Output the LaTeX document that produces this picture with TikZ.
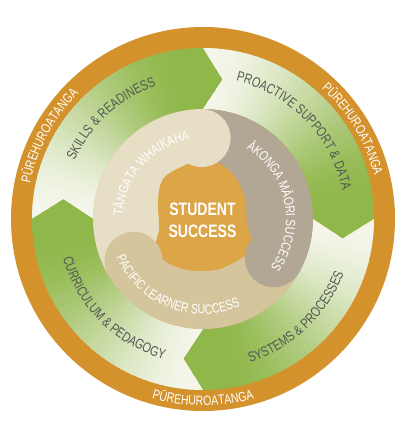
\documentclass[tikz,border=0pt]{standalone}
\usepackage{fontspec}
\setmainfont{Liberation Sans}[FakeStretch=0.78]
\usetikzlibrary{decorations.text}
\definecolor{ringC}{HTML}{D4922C}
\definecolor{coreC}{HTML}{DBA548}
\definecolor{creamC}{HTML}{E7DEC6}
\definecolor{greyC}{HTML}{B2A794}
\definecolor{tanC}{HTML}{D5C59C}
\definecolor{bandG}{HTML}{8FB74A}
\definecolor{bandL}{HTML}{F4F6EA}
\definecolor{labelC}{HTML}{545852}
\newcommand\ringfont{\fontsize{13.5}{15}\selectfont}
\newcommand\bandfont{\fontsize{14}{16}\selectfont}
\newcommand\lobefont{\fontsize{13.5}{15}\selectfont}
% radius, start angle, end angle, colour, font, text
\newcommand\arclabel[6]{%
  \path[decorate,decoration={text along path,text align=center,text color=#4,
    text={|#5|#6}}]
    (#2:#1pt) arc[start angle=#2,end angle=#3,radius=#1pt];}
\begin{document}
\begin{tikzpicture}
\useasboundingbox (-203pt,-204pt) rectangle (197pt,219pt);
\fill[white] (-203pt,-204pt) rectangle (197pt,219pt);
% outer orange ring
\fill[ringC] (0,0) circle[radius=192pt];
% green band: four chevron segments with angular gradient
\foreach \s in {180,90,0,-90}{
  \begin{scope}
    \clip (\s:171pt) arc[start angle=\s,end angle=\s-90,radius=171pt]
      -- (\s-98:141pt) -- (\s-90:110pt)
      arc[start angle=\s-90,end angle=\s,radius=110pt]
      -- (\s-8:141pt) -- cycle;
    \foreach \i in {0,...,49}{
      \pgfmathsetmacro\a{\s-2*\i}
      \pgfmathsetmacro\x{min(1,\i/42)}
      \pgfmathsetmacro\t{100*\x*\x*(3-2*\x)}
      \fill[bandG!\t!bandL] (0,0) -- (\a:176pt)
        arc[start angle=\a,end angle=\a-3,radius=176pt] -- cycle;
    }
  \end{scope}
}
% inner ring lobes
\fill[creamC] (0,0) -- (91:110pt) arc[start angle=91,end angle=211,radius=110pt] -- cycle;
\fill[greyC] (0,0) -- (-29:110pt) arc[start angle=-29,end angle=91,radius=110pt] -- cycle;
\fill[tanC] (0,0) -- (211:110pt) arc[start angle=211,end angle=331,radius=110pt] -- cycle;
% centre
\fill[coreC] plot[smooth cycle,tension=0.6] coordinates {
  (0pt,60pt) (-22pt,52pt) (-40pt,40pt) (-45pt,18pt) (-44pt,-10pt) (-48pt,-30pt)
  (-38pt,-42pt) (-20pt,-50pt) (0pt,-52pt) (22pt,-48pt) (48pt,-30pt)
  (44pt,-5pt) (42pt,20pt) (32pt,42pt) (16pt,56pt)};
% lobe heads
\fill[creamC] (91:81pt) circle[radius=29pt];
\fill[greyC] (-29:81pt) circle[radius=29pt];
\fill[tanC] (211:81pt) circle[radius=29pt];
% ring labels
\arclabel{176.5}{211.5}{91.5}{white}{\ringfont}{PŪREHUROATANGA}
\arclabel{176.5}{91}{-29}{white}{\ringfont}{PŪREHUROATANGA}
\arclabel{186.5}{-150}{-30}{white}{\ringfont}{PŪREHUROATANGA}
% band labels
\arclabel{141}{192.5}{72.5}{labelC}{\bandfont}{SKILLS {\&} READINESS}
\arclabel{142}{114}{-26}{labelC}{\bandfont}{PROACTIVE SUPPORT {\&} DATA}
\arclabel{151}{-106.5}{13.5}{labelC}{\bandfont}{SYSTEMS {\&} PROCESSES}
\arclabel{145.5}{165}{285}{labelC}{\bandfont}{CURRICULUM {\&} PEDAGOGY}
% lobe labels
\arclabel{80}{198.5}{78.5}{white}{\lobefont}{TĀNGATA WHAIKAHA}
\arclabel{83}{71.5}{-48.5}{white}{\lobefont}{ĀKONGA MĀORI SUCCESS}
\arclabel{95}{188.5}{308.5}{white}{\lobefont}{PACIFIC LEARNER SUCCESS}
% centre text
\node[anchor=base,text=white,font=\fontsize{18}{22}\selectfont\bfseries,inner sep=0pt] (stud) at (-0.5pt,4pt) {STUDENT};
\node[anchor=base,text=white,font=\fontsize{18}{22}\selectfont\bfseries,inner sep=0pt] (succ) at (-0.5pt,-18pt) {SUCCESS};
\end{tikzpicture}
\end{document}
